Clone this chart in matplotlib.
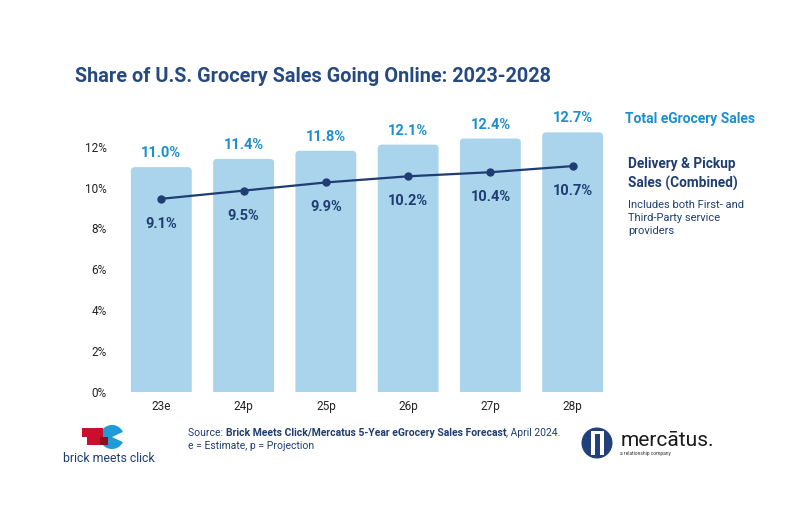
import numpy as np
import matplotlib
matplotlib.use('Agg')
import matplotlib.pyplot as plt
from matplotlib.patches import Rectangle, Wedge, Circle, FancyBboxPatch

plt.rcParams['font.family'] = ['Roboto', 'DejaVu Sans']

years = ['23e', '24p', '25p', '26p', '27p', '28p']
totalSales = [11.0, 11.4, 11.8, 12.1, 12.4, 12.7]
deliveryPickup = [9.1, 9.5, 9.9, 10.2, 10.4, 10.7]
yTicks = [0, 2, 4, 6, 8, 10, 12]

barColor = '#a9d4eb'
labelBlue = '#1c8fcf'
navy = '#1f3d72'
titleNavy = '#264a80'

fig = plt.figure(figsize=(8, 5.28), dpi=100)

# overlay in pixel units for title, notes and logos
lax = fig.add_axes([0, 0, 1, 1], zorder=0)
lax.set_xlim(0, 800)
lax.set_ylim(528, 0)
lax.axis('off')

ax = fig.add_axes([0.14, 0.2576, 0.6375, 0.5227], zorder=1)
ax.patch.set_alpha(0)
x = np.arange(len(years))
bars = ax.bar(x, totalSales, width=0.74, color=barColor, zorder=1)
ax.set_xlim(-0.6, 5.6)
ax.set_ylim(0, 13.5)

# rounded tops (bottom corners hidden below the axis)
for b in bars:
    b.set_visible(False)
    fb = FancyBboxPatch((b.get_x(), -0.5), b.get_width(), b.get_height() + 0.5,
                        boxstyle='round,pad=0,rounding_size=0.05',
                        mutation_aspect=3.9, color=barColor, zorder=1, lw=0)
    ax.add_patch(fb)

for xi, v in zip(x, totalSales):
    ax.annotate(f'{v:.1f}%', (xi, v), xytext=(0, 5), textcoords='offset points',
                ha='center', va='bottom', color=labelBlue, fontsize=10.5,
                fontweight='bold', annotation_clip=False)

ax.set_yticks(yTicks)
ax.set_yticklabels([f'{t}%' for t in yTicks])
ax.set_xticks(x)
ax.set_xticklabels(years)
ax.tick_params(length=0, labelsize=8.5, colors='#222222', pad=6)
ax.tick_params(axis='y', pad=4)
for s in ax.spines.values():
    s.set_visible(False)

# line sits on a slightly shifted scale in the original
ax2 = ax.twinx()
ax2.set_ylim(-0.35, 13.15)
ax2.plot(x, deliveryPickup, color=navy, lw=1.6, marker='o', ms=5, zorder=3)
for xi, v in zip(x, deliveryPickup):
    ax2.annotate(f'{v:.1f}%', (xi, v), xytext=(0, -18), textcoords='offset points',
                 ha='center', va='center', color=navy, fontsize=10.5,
                 fontweight='bold')
ax2.axis('off')

lax.text(75, 77, 'Share of U.S. Grocery Sales Going Online: 2023-2028',
         fontsize=14.3, fontweight='bold', color=titleNavy, va='center')

lax.text(625, 119, 'Total eGrocery Sales', fontsize=10, fontweight='bold',
         color=labelBlue, va='center')
lax.text(628, 174, 'Delivery & Pickup\nSales (Combined)', fontsize=9.8,
         fontweight='bold', color=navy, va='center', linespacing=1.45)
lax.text(628, 218, 'Includes both First- and\nThird-Party service\nproviders',
         fontsize=8, color=navy, va='center', linespacing=1.4)

# source line with bold part
r = fig.canvas.get_renderer()
t1 = lax.text(188, 433, 'Source: ', fontsize=7.5, color=navy, va='center')
bb = t1.get_window_extent(r)
t2 = lax.text(188 + bb.width, 433, 'Brick Meets Click/Mercatus 5-Year eGrocery Sales Forecast',
              fontsize=7.5, color=navy, va='center', fontweight='bold')
bb2 = t2.get_window_extent(r)
lax.text(188 + bb.width + bb2.width, 433, ', April 2024.', fontsize=7.5,
         color=navy, va='center')
lax.text(188, 446, 'e = Estimate, p = Projection', fontsize=7.5, color=navy,
         va='center')

# brick meets click logo
lax.add_patch(Wedge((112, 437), 12, 25, 335, color='#1f9bd7', lw=0))
lax.add_patch(Rectangle((82, 428), 21, 9, color='#c8102e', lw=0))
lax.add_patch(Rectangle((87, 437), 21, 8, color='#c8102e', lw=0))
lax.add_patch(Rectangle((100, 437), 8, 8, color='#8a1020', lw=0))
lax.text(63, 458, 'brick meets click', fontsize=8.8, color=navy, va='center')
lax.text(154, 460, '.', fontsize=5, color=navy, va='center')

# mercatus logo
lax.add_patch(Circle((597, 443), 15.5, color='#22407a', lw=0))
lax.add_patch(Rectangle((591, 431), 13, 24, color='white', lw=0))
lax.add_patch(Rectangle((595, 434), 5, 21, color='#22407a', lw=0))
lax.text(621, 441, 'mercātus.', fontsize=15, color='#1a1a1a', va='center')
lax.text(620, 453, 'a relationship company', fontsize=3.5, color='#333333',
         va='center')

fig.savefig('out.png', dpi=100)
